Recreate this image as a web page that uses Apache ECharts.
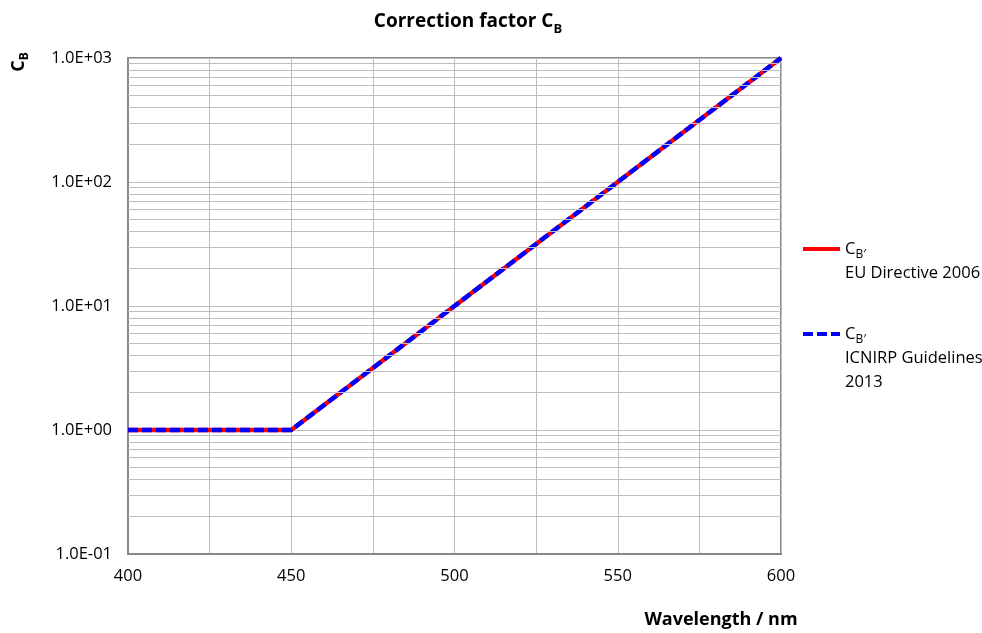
<!DOCTYPE html>
<html>
<head>
<meta charset="utf-8">
<script src="https://cdn.jsdelivr.net/npm/echarts@6/dist/echarts.min.js"></script>
<style>
html,body{margin:0;padding:0;background:#fff;}
#c{width:982px;height:633px;}
</style>
</head>
<body>
<div id="c"></div>
<script>
// ---- data ----
const wavelength = [400, 450, 600];
const euDirective2006 = [1, 1, 1000];
const icnirp2013 = [1, 1, 1000];
const yTicks = [0.1, 1, 10, 100, 1000];
const xTicks = [400, 450, 500, 550, 600];

const FONT = 'Open Sans';
const minorLines = [];
for (let k = -1; k <= 2; k++) {
  for (let m = 2; m <= 9; m++) minorLines.push(m * Math.pow(10, k));
}

function expFmt(v) {
  const e = Math.round(Math.log10(v));
  const m = v / Math.pow(10, e);
  return m.toFixed(1) + 'E' + (e < 0 ? '-' : '+') + String(Math.abs(e)).padStart(2, '0');
}

const chart = echarts.init(document.getElementById('c'));
const gridColor = '#bdbdbd';
const legendText = {
  'EU': '{n| }\n{c|C}{s|B\u2032}\n{n|EU Directive 2006}',
  'ICNIRP': '{n| }\n{n| }\n{c|C}{s|B\u2032}\n{n|ICNIRP Guidelines}\n{n|2013}'
};
chart.setOption({
  animation: false,
  backgroundColor: '#fff',
  title: {
    text: '{a|Correction factor C}{b|B}',
    left: 463, top: 3, textAlign: 'center',
    textStyle: {
      rich: {
        a: {fontFamily: FONT, fontWeight: 'bold', fontSize: 19, color: '#000', lineHeight: 28, verticalAlign: 'middle'},
        b: {fontFamily: FONT, fontWeight: 'bold', fontSize: 13, color: '#000', lineHeight: 16, verticalAlign: 'bottom'}
      }
    }
  },
  grid: {left: 128, right: 201, top: 58, bottom: 79, show: true, borderColor: '#888', borderWidth: 2},
  legend: {
    orient: 'vertical', left: 801, top: 213, padding: 0, itemGap: -11,
    itemWidth: 37, itemHeight: 14,
    itemStyle: {opacity: 0},
    lineStyle: {width: 4},
    formatter: name => legendText[name],
    textStyle: {
      fontFamily: FONT, fontSize: 16.5, lineHeight: 24, color: '#000',
      rich: {
        n: {fontFamily: FONT, fontSize: 16.5, lineHeight: 24, color: '#000'},
        c: {fontFamily: FONT, fontSize: 16.5, lineHeight: 24, color: '#000', verticalAlign: 'middle'},
        s: {fontFamily: FONT, fontSize: 12, lineHeight: 12, color: '#000', verticalAlign: 'bottom'}
      }
    },
    data: ['EU', 'ICNIRP']
  },
  xAxis: {
    type: 'value', min: 400, max: 600, interval: 25,
    axisLine: {show: true, lineStyle: {color: '#888', width: 2}},
    axisTick: {show: false},
    axisLabel: {
      fontFamily: FONT, fontSize: 16.5, color: '#000', margin: 14,
      formatter: v => (xTicks.indexOf(v) >= 0 ? String(v) : '')
    },
    splitLine: {show: true, lineStyle: {color: gridColor, width: 1}}
  },
  yAxis: {
    type: 'log', logBase: 10, min: 0.1, max: 1000,
    axisLine: {show: true, lineStyle: {color: '#888', width: 2}},
    axisTick: {show: false},
    axisLabel: {fontFamily: FONT, fontSize: 16.5, color: '#000', margin: 16,
      formatter: v => expFmt(v)},
    splitLine: {show: true, lineStyle: {color: gridColor, width: 1}}
  },
  graphic: [
    {type: 'text', x: 721, y: 620, z: 10,
     style: {text: 'Wavelength / nm', fontFamily: FONT, fontWeight: 'bold', fontSize: 18, fill: '#000', align: 'center', verticalAlign: 'middle'}},
    {type: 'text', x: 19, y: 62, rotation: Math.PI / 2, z: 10,
     style: {text: '{a|C}{b|B}', align: 'center', verticalAlign: 'middle',
       rich: {
         a: {fontFamily: FONT, fontWeight: 'bold', fontSize: 18, fill: '#000', lineHeight: 24, verticalAlign: 'middle'},
         b: {fontFamily: FONT, fontWeight: 'bold', fontSize: 12, fill: '#000', lineHeight: 12, verticalAlign: 'bottom'}
       }}}
  ],
  series: [
    {
      name: 'minor', type: 'line', data: [], z: 1, silent: true,
      markLine: {
        silent: true, symbol: ['none', 'none'], label: {show: false},
        lineStyle: {color: gridColor, width: 1, type: 'solid'},
        emphasis: {disabled: true},
        data: minorLines.map(v => ({yAxis: v}))
      }
    },
    {
      name: 'EU', type: 'line', symbol: 'none', z: 3,
      data: wavelength.map((x, i) => [x, euDirective2006[i]]),
      lineStyle: {color: '#ff0000', width: 4.5, type: 'solid'},
      itemStyle: {color: '#ff0000'}
    },
    {
      name: 'ICNIRP', type: 'line', symbol: 'none', z: 4,
      data: wavelength.map((x, i) => [x, icnirp2013[i]]),
      lineStyle: {color: '#0000ff', width: 4.5, type: [10, 4]},
      itemStyle: {color: '#0000ff'}
    }
  ]
});
</script>
</body>
</html>
